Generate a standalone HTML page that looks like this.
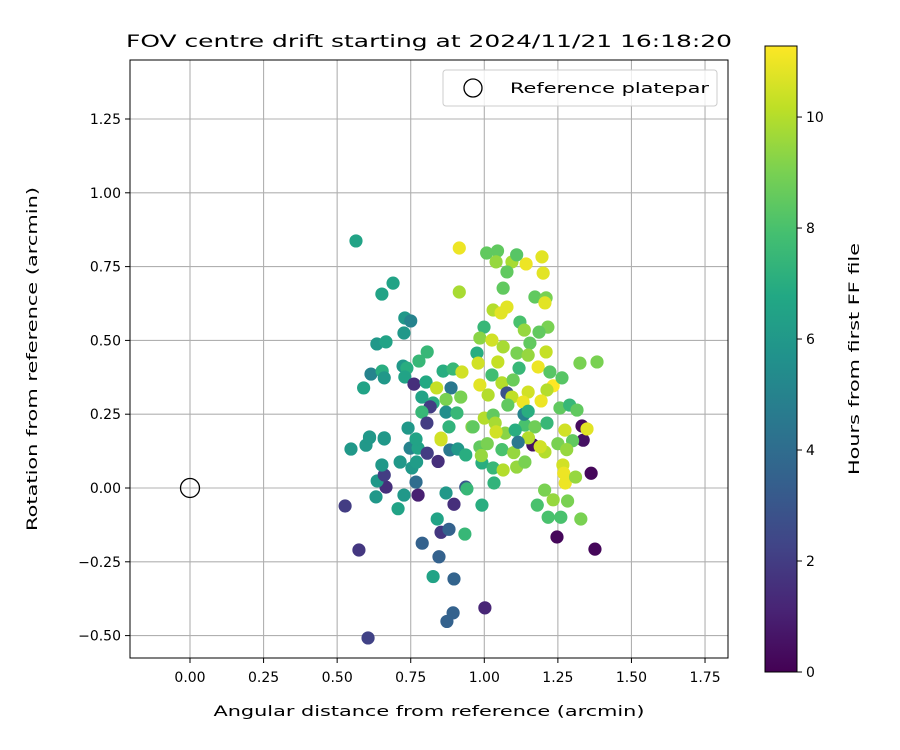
<!DOCTYPE html>
<html><head><meta charset="utf-8"><style>
body{margin:0;background:#fff;}
svg{display:block;font-family:"DejaVu Sans","Liberation Sans",sans-serif;}
</style></head><body>
<svg id="chart" width="900" height="750" viewBox="0 0 900 750" xmlns="http://www.w3.org/2000/svg">
<defs>
<linearGradient id="vir" x1="0" y1="1" x2="0" y2="0">
<stop offset="0" stop-color="#440154"/><stop offset="0.1" stop-color="#482475"/><stop offset="0.2" stop-color="#414487"/><stop offset="0.3" stop-color="#355f8d"/><stop offset="0.4" stop-color="#2a788e"/><stop offset="0.5" stop-color="#21918c"/><stop offset="0.6" stop-color="#22a884"/><stop offset="0.7" stop-color="#44bf70"/><stop offset="0.8" stop-color="#7ad151"/><stop offset="0.9" stop-color="#bddf26"/><stop offset="1" stop-color="#fde725"/>
</linearGradient>
<clipPath id="plotclip"><rect x="130" y="60" width="598" height="598"/></clipPath>
</defs>
<text x="429" y="47" font-size="17" text-anchor="middle" textLength="606" lengthAdjust="spacingAndGlyphs">FOV centre drift starting at 2024/11/21 16:18:20</text>
<g id="grid"></g>
<g id="points" clip-path="url(#plotclip)"></g>
<rect x="130" y="60" width="598" height="598" fill="none" stroke="#000" stroke-width="1"/>
<g id="ticks"></g>
<text x="429" y="716" font-size="14" text-anchor="middle" textLength="431" lengthAdjust="spacingAndGlyphs">Angular distance from reference (arcmin)</text>
<text transform="translate(37,359) rotate(-90)" font-size="14" text-anchor="middle" textLength="344" lengthAdjust="spacingAndGlyphs">Rotation from reference (arcmin)</text>
<g>
<rect x="443" y="70" width="274" height="36" rx="3" fill="#fff" fill-opacity="0.8" stroke="#ccc"/>
<circle cx="473" cy="88" r="9" fill="none" stroke="#000" stroke-width="1.3"/>
<text x="510" y="93" font-size="14" textLength="199" lengthAdjust="spacingAndGlyphs">Reference platepar</text>
</g>
<rect x="765" y="46" width="32" height="626" fill="url(#vir)" stroke="#000" stroke-width="1"/>
<g id="cbticks"></g>
<text transform="translate(859,359) rotate(-90)" font-size="14" text-anchor="middle" textLength="232" lengthAdjust="spacingAndGlyphs">Hours from first FF file</text>
</svg>
<script>
const xs=[0.527,0.574,0.605,1.002,1.247,1.376,1.363,1.332,0.775,0.843,0.666,0.897,0.853,0.88,0.789,0.846,0.897,0.826,0.894,0.873,0.934,0.992,1.033,0.707,0.632,0.727,0.87,0.84,0.937,0.941,0.768,0.636,0.66,0.652,0.547,0.598,0.61,0.66,0.714,0.754,0.77,0.748,0.775,0.806,0.853,0.883,0.91,0.937,0.985,0.992,1.03,1.064,1.11,1.138,1.165,1.206,1.267,1.27,1.275,1.31,1.205,1.234,1.283,1.18,1.217,1.26,1.328,1.336,0.564,0.915,0.69,0.652,0.915,0.73,0.75,0.727,0.635,0.666,0.806,0.778,0.615,0.653,0.66,0.59,0.724,0.737,0.73,0.761,0.802,0.86,0.894,0.924,0.838,0.887,0.92,0.87,0.788,0.826,0.816,0.87,0.907,0.788,0.805,0.88,0.958,0.741,0.853,0.61,0.66,0.768,1.008,1.045,1.04,1.094,1.11,1.077,1.142,1.196,1.2,1.064,1.172,1.21,1.206,1.03,1.077,1.057,0.999,1.121,1.136,1.216,1.186,1.155,0.985,1.026,1.064,1.21,0.975,1.111,1.149,0.979,1.046,1.325,1.383,1.118,1.183,1.026,1.223,0.985,1.06,1.098,1.234,1.264,1.213,1.149,1.077,1.094,1.013,1.132,1.193,1.08,1.257,1.29,1.315,1.0,1.03,1.037,1.138,1.172,1.213,1.274,1.349,0.962,1.071,1.105,1.135,1.149,1.01,1.06,1.1,1.15,1.25,1.3,1.28,0.99,1.04,1.19,1.115];
const ys=[-0.061,-0.21,-0.508,-0.406,-0.166,-0.207,0.05,0.21,-0.024,0.09,0.003,-0.055,-0.15,-0.14,-0.187,-0.233,-0.308,-0.30,-0.423,-0.452,-0.156,-0.058,0.017,-0.07,-0.03,-0.024,-0.017,-0.105,0.003,-0.003,0.02,0.024,0.044,0.078,0.132,0.145,0.17,0.166,0.088,0.068,0.088,0.135,0.135,0.118,0.163,0.129,0.132,0.112,0.139,0.085,0.068,0.061,0.071,0.088,0.146,0.122,0.078,0.05,0.017,0.037,-0.007,-0.04,-0.044,-0.058,-0.099,-0.099,-0.105,0.162,0.837,0.813,0.694,0.657,0.664,0.576,0.566,0.525,0.488,0.495,0.461,0.43,0.386,0.396,0.373,0.339,0.413,0.406,0.376,0.352,0.359,0.396,0.403,0.393,0.339,0.339,0.308,0.3,0.308,0.288,0.275,0.257,0.254,0.257,0.22,0.207,0.207,0.203,0.169,0.173,0.17,0.166,0.796,0.803,0.766,0.766,0.79,0.732,0.759,0.783,0.728,0.677,0.647,0.644,0.627,0.603,0.613,0.593,0.545,0.562,0.535,0.545,0.528,0.491,0.508,0.501,0.478,0.461,0.457,0.457,0.45,0.423,0.427,0.423,0.427,0.406,0.41,0.383,0.393,0.349,0.356,0.366,0.346,0.373,0.332,0.325,0.322,0.308,0.315,0.291,0.295,0.281,0.271,0.281,0.264,0.237,0.247,0.22,0.213,0.207,0.22,0.196,0.2,0.207,0.186,0.196,0.25,0.26,0.15,0.13,0.12,0.17,0.15,0.16,0.13,0.11,0.19,0.14,0.155];
const hours=[2,1.8,2.2,1.2,0.2,0.2,0.2,0.3,1,1.5,1.5,1.5,1.8,3.5,3.5,3.5,3.6,6.5,3.5,3.5,7.5,7,7.3,6.5,6,6,6,6.5,3,7.5,4,6,2,6,6,6,6,6,6,6,6.2,5,6.5,2,10.5,4.5,6,7,8.5,7,7.5,10,9.5,9,0.5,10,10.5,11,11,9.5,9,9.5,9,8,8,8,9,0.5,6.5,11,6.5,6.5,9.8,6,5,6,6,6.5,7.5,7.5,5,7,6,6.5,6,7,6.5,1.5,6.8,7,7.5,10.5,10.3,4.5,9,9,6.5,7,2,5.5,7.5,7.5,2,7.3,9.3,6,10.5,6,6,6.5,8.5,8.5,9.5,9.8,8.3,8.5,11,10.8,10.8,8.5,8.5,9,10.8,10,10.8,10.8,7.5,8,9.5,9,8.5,8.5,9.3,10.5,9.8,10.3,7,9,9.5,10.5,10.3,9,9,7.5,11,7.8,8.3,10.8,10,8.7,11.3,8.3,10,10.5,2.8,10.2,10,11,11,8.5,8.5,7.5,8.5,10,8.5,9.8,8,8.8,7.5,10.5,10.8,8.5,9.3,7,5,7,9,8,9.5,10,9,8.5,9.5,9.5,10.5,10.5,4.5];
const xTicks=[0,0.25,0.5,0.75,1.0,1.25,1.5,1.75];
const yTicks=[-0.5,-0.25,0,0.25,0.5,0.75,1.0,1.25];
const cbTicks=[0,2,4,6,8,10];
const refPoint=[0,0];
const HMAX=11.28;
const NS="http://www.w3.org/2000/svg";
const sx=v=>190+v*294.3;
const sy=v=>488-v*295.2;
const cy=v=>672-v*(626/HMAX);
const stops=[[68,1,84],[72,36,117],[65,68,135],[53,95,141],[42,120,142],[33,145,140],[34,168,132],[68,191,112],[122,209,81],[189,223,38],[253,231,37]];
function viridis(t){t=Math.max(0,Math.min(1,t))*10;const i=Math.min(9,Math.floor(t)),f=t-i;const a=stops[i],b=stops[i+1];
return "rgb("+a.map((c,k)=>Math.round(c+(b[k]-c)*f)).join(",")+")";}
function mk(tag,attrs,parent){const e=document.createElementNS(NS,tag);for(const k in attrs)e.setAttribute(k,attrs[k]);parent.appendChild(e);return e;}
const grid=document.getElementById('grid'),ticks=document.getElementById('ticks'),pts=document.getElementById('points'),cbt=document.getElementById('cbticks');
xTicks.forEach(v=>{
 const g=mk('line',{x1:sx(v),x2:sx(v),y1:60,y2:658,stroke:'#b0b0b0','stroke-width':1.1},grid);
 
 
 const t=mk('line',{x1:sx(v),x2:sx(v),y1:658,y2:663,stroke:'#000'},ticks);
 
 
 const l=mk('text',{x:sx(v),y:682,'font-size':14,'text-anchor':'middle'},ticks);
 l.textContent=v.toFixed(2);
 
 
});
yTicks.forEach(v=>{
 const g=mk('line',{x1:130,x2:728,y1:sy(v),y2:sy(v),stroke:'#b0b0b0','stroke-width':1.1},grid);
 
 
 const t=mk('line',{x1:125,x2:130,y1:sy(v),y2:sy(v),stroke:'#000'},ticks);
 
 
 const l=mk('text',{x:121,y:sy(v)+5,'font-size':14,'text-anchor':'end'},ticks);
 l.textContent=(v<0?"\u2212":"")+Math.abs(v).toFixed(2);
 
 
});
cbTicks.forEach(v=>{
 const t=mk('line',{x1:797,x2:802,y1:cy(v),y2:cy(v),stroke:'#000'},cbt);
 
 
 const l=mk('text',{x:806,y:cy(v)+5,'font-size':14},cbt);
 l.textContent=String(v);
 
 
});
for(let i=0;i<xs.length;i++){
 const c=mk('circle',{cx:sx(xs[i]),cy:sy(ys[i]),r:6.6,fill:viridis(hours[i]/HMAX)},pts);
 
 
}
const ref=mk('circle',{cx:sx(refPoint[0]),cy:sy(refPoint[1]),r:9.5,fill:'none',stroke:'#000','stroke-width':1.3},pts);


</script>
</body></html>
